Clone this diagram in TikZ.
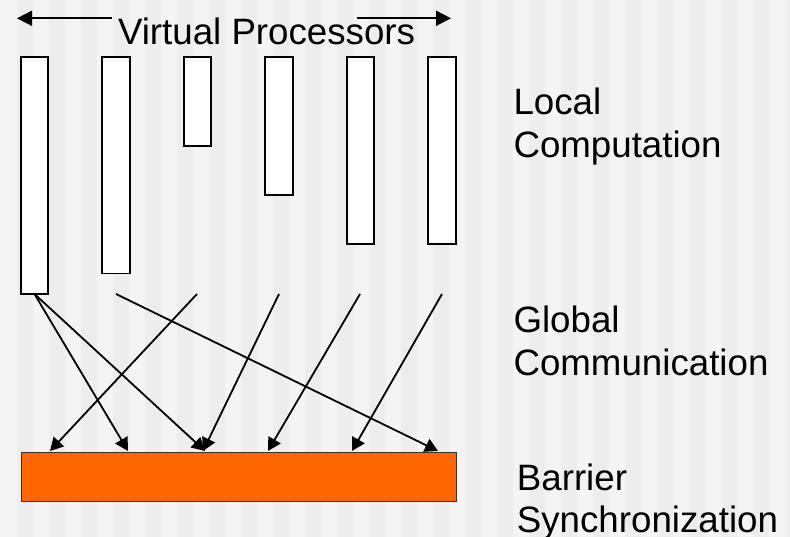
\documentclass[tikz,border=0pt]{standalone}
\usepackage{fontspec}
\setmainfont{Liberation Sans}
\usetikzlibrary{arrows.meta}
\definecolor{stripeA}{HTML}{F4F4F4}
\definecolor{stripeB}{HTML}{EDEDED}
\definecolor{barrierfill}{HTML}{FF6600}
\begin{document}
\begin{tikzpicture}[x=1pt,y=-1pt,
  proc/.style={draw=black,line width=1.7pt,fill=white},
  flow/.style={line width=1.8pt,-{Triangle[length=13pt,width=14pt]}},
  span/.style={line width=1.8pt,-{Triangle[length=15pt,width=15pt]}},
  label/.style={anchor=base west,inner sep=0pt,align=left,
    font=\fontsize{36.7}{42.5}\selectfont}]
  \useasboundingbox (0,0) rectangle (790,537);
  % striped backdrop
  \fill[stripeA] (0,0) rectangle (790,537);
  \foreach \k in {0,...,23}
    \fill[stripeB] ({17+32*\k},0) rectangle ({33+32*\k},537);
  \fill[stripeB] (785,0) rectangle (790,537);

  % heading with its span arrows
  \node[label] (title) at (117.8,45) {Virtual Processors};
  \coordinate (la) at (112,18.3);
  \coordinate (lb) at (17,18.3);
  \coordinate (ra) at (357,18.3);
  \coordinate (rb) at (451,18.3);
  \draw[span] (la) -- (lb);
  \draw[span] (ra) -- (rb);

  % processor bars
  \draw[proc] (20.7,57.3) rectangle (48.3,294);
  \node[inner sep=0pt] (p1b) at (34.5,294) {};
  \draw[proc] (102.3,57.3) rectangle (129.7,273.5);
  \draw[proc] (183.7,57.3) rectangle (211.3,146.3);
  \draw[proc] (265.3,57.3) rectangle (292.7,195.3);
  \draw[proc] (347,57.3) rectangle (374.3,244.3);
  \draw[proc] (428.3,57.3) rectangle (455.7,244.3);

  % barrier
  \node[draw=black!80,line width=1.2pt,fill=barrierfill,inner sep=0pt,
    minimum width=435pt,minimum height=49pt,anchor=north west] (bar) at (20.7,451.7) {};

  % message sources
  \coordinate (s2) at (116,294);
  \coordinate (s3) at (197,294);
  \coordinate (s4) at (279,294);
  \coordinate (s5) at (360,294);
  \coordinate (s6) at (442,294);
  % arrival points on the barrier
  \coordinate (t1) at (50,451);
  \coordinate (t2) at (128,451);
  \coordinate (t3) at (205,451);
  \coordinate (t4) at (203,451);
  \coordinate (t5) at (268,451);
  \coordinate (t6) at (352,451);
  \coordinate (t7) at (438,451);

  \draw[flow] (p1b.center) -- (t2);
  \draw[flow] (p1b.center) -- (t3);
  \draw[flow] (s2) -- (t7);
  \draw[flow] (s3) -- (t1);
  \draw[flow] (s4) -- (t4);
  \draw[flow] (s5) -- (t5);
  \draw[flow] (s6) -- (t6);

  % phase labels (base anchor sits on the second line)
  \node[label] (local) at (513.3,157.3) {Local\\Computation};
  \node[label] (global) at (513.3,375) {Global\\Communication};
  \node[label] (sync) at (516.7,532.5) {Barrier\\Synchronization};
\end{tikzpicture}
\end{document}
